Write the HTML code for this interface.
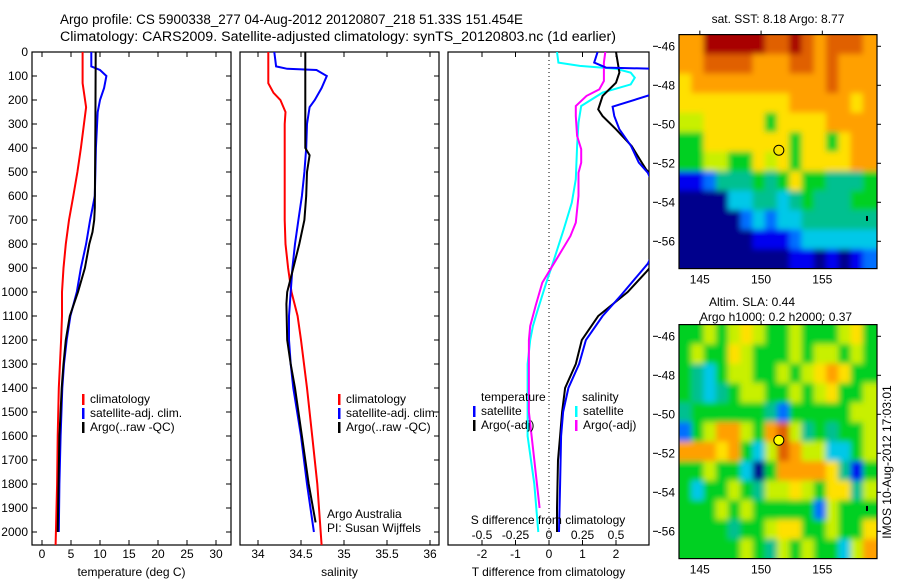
<!DOCTYPE html>
<html><head><meta charset="utf-8">
<style>
html,body{margin:0;padding:0;background:#fff;}
svg{display:block;font-family:"Liberation Sans",sans-serif;}
text{font-size:12px;fill:#000;}
</style></head>
<body>
<svg id="fig" width="900" height="580" viewBox="0 0 900 580" xmlns="http://www.w3.org/2000/svg">
<defs><filter id="blur" x="-5%" y="-5%" width="110%" height="110%"><feGaussianBlur stdDeviation="3"/></filter></defs>
<text x="60" y="24" style="font-size:13.5px" textLength="463" lengthAdjust="spacingAndGlyphs">Argo profile: CS 5900338_277 04-Aug-2012 20120807_218 51.33S 151.454E</text>
<text x="60" y="41" style="font-size:13.5px" textLength="556" lengthAdjust="spacingAndGlyphs">Climatology: CARS2009. Satellite-adjusted climatology: synTS_20120803.nc (1d earlier)</text>
<g id="panels"></g>
<g id="maps"></g>
</svg>
<script>
// ---------- profile data ----------
const depthTicks=[0,100,200,300,400,500,600,700,800,900,1000,1100,1200,1300,1400,1500,1600,1700,1800,1900,2000];
const tempTicks=[0,5,10,15,20,25,30];
const salTicks=[34,34.5,35,35.5,36];
const tdiffTicks=[-2,-1,0,1,2];
const sdiffTicks=[-0.5,-0.25,0,0.25,0.5];

const tClimD=[0,130,230,400,500,600,700,800,900,1000,1100,1200,1400,1600,1800,2054];
const tClimV=[7.0,7.0,7.6,6.7,6.1,5.4,4.65,4.1,3.7,3.45,3.45,3.3,2.9,2.7,2.6,2.35];
const tSatD=[0,60,75,100,150,200,250,400,600,650,700,800,900,1000,1100,1200,1300,1400,1600,1800,2000];
const tSatV=[8.5,8.5,10.0,11.1,10.7,10.0,9.6,9.3,9.1,8.7,8.3,7.6,6.7,6.0,4.9,4.25,3.8,3.5,3.2,3.0,2.9];
const tArgoD=[0,300,650,700,750,800,900,1000,1100,1200,1300,1400,1500,1600,2000];
const tArgoV=[9.25,9.2,9.1,9.0,8.7,8.15,7.4,6.2,4.8,4.1,3.7,3.4,3.2,3.0,2.7];

const sClimD=[0,130,170,200,250,300,700,800,900,1000,1100,1200,1400,1600,1800,2054];
const sClimV=[34.12,34.12,34.18,34.26,34.32,34.31,34.31,34.32,34.35,34.39,34.46,34.5,34.57,34.63,34.69,34.74];
const sSatD=[0,60,70,75,100,150,200,230,300,400,500,600,700,800,900,1000,1100,1200,1300,1400,1600,1800,2000];
const sSatV=[34.19,34.21,34.34,34.68,34.8,34.74,34.66,34.6,34.57,34.56,34.54,34.51,34.47,34.43,34.40,34.38,34.36,34.36,34.38,34.41,34.5,34.57,34.65];
const sArgoD=[0,400,430,500,600,700,800,900,1000,1050,1200,1300,1400,1600,1800,1960];
const sArgoV=[34.55,34.55,34.6,34.57,34.56,34.54,34.48,34.41,34.34,34.33,34.34,34.38,34.43,34.51,34.59,34.67];

const dtArgoD=[0,86,128,183,239,267,322,392,461,489,600,800,917,1000,1100,1200,1300,1400,1500,1600,1700,1900,2000];
const dtArgoV=[2.0,2.1,2.0,1.6,1.47,1.6,2.0,2.47,2.77,2.9,3.6,3.6,2.9,2.35,1.47,0.98,0.8,0.48,0.39,0.33,0.27,0.24,0.24];
const dtSatD=[0,44,65,70,120,180,228,267,322,392,461,503,700,882,1015,1100,1200,1300,1400,1500,1600,1800,2000];
const dtSatV=[1.45,1.35,1.7,3.2,3.6,3.0,1.9,1.95,2.1,2.45,2.68,2.95,3.6,2.95,2.14,1.6,1.1,0.9,0.58,0.42,0.36,0.33,0.3];
const dsSatD=[0,44,58,70,86,107,135,169,225,294,392,530,628,739,878,961,1086,1142,1200,1300,1600,1800,2000];
const dsSatV=[0.06,0.07,0.23,0.5,0.61,0.64,0.61,0.4,0.24,0.22,0.21,0.2,0.17,0.11,0.03,-0.02,-0.09,-0.12,-0.14,-0.16,-0.16,-0.11,-0.08];
const dsArgoD=[0,44,121,156,183,225,267,350,405,461,503,600,711,767,878,961,1058,1142,1200,1300,1500,1700,1900];
const dsArgoV=[0.42,0.41,0.41,0.375,0.28,0.2,0.2,0.21,0.24,0.24,0.22,0.22,0.2,0.16,0.04,-0.05,-0.1,-0.14,-0.15,-0.15,-0.15,-0.11,-0.07];

// ---------- map data (1°x1° cells, rows from -45.4S southward, cols from 143.3E) ----------
const sstGrid=[
[8,8,10,10,10,10,10,9,9,10,9,8,9,9,9,8],
[8,8,9,9,9,9,8,8,8,9,9,8,9,8,8,8],
[7,8,8,8,8,8,8,8,8,8,8,8,9,8,8,8],
[7,7,7,7,7,7,7,7,7,8,8,8,8,8,7,8],
[6,6,7,7,7,7,7,5,7,7,7,7,8,8,8,8],
[5,5,7,7,7,7,7,7,7,5,7,7,5,7,8,8],
[5,5,6,6,5,5,7,6,7,5,7,7,7,7,8,8],
[1,1,2,4,4,4,5,4,5,7,5,5,4,4,4,5],
[0,0,0,0,3,3,4,4,3,4,5,4,4,4,5,5],
[0,0,0,0,0,2,3,2,3,3,4,4,4,4,4,4],
[0,0,0,0,0,0,1,1,1,2,3,3,3,3,3,3],
[0,0,0,0,0,0,0,0,0,1,1,0,1,0,1,2]];
const slaGrid=[
[5,5,6,5,6,7,6,5,5,6,5,5,5,6,7,5],
[5,6,5,5,7,6,5,5,5,6,5,6,6,5,6,5],
[5,4,3,5,6,6,5,5,6,5,6,7,8,7,5,5],
[5,4,3,4,5,6,6,5,5,6,5,6,7,5,5,6],
[4,5,5,5,5,5,5,4,2,5,5,5,5,5,6,6],
[2,5,6,8,8,6,5,8,9,6,4,5,4,5,5,6],
[8,8,8,7,8,5,3,6,9,8,6,6,3,3,5,6],
[5,5,6,5,5,3,0,5,8,8,8,8,7,4,1,5],
[5,3,5,5,6,5,4,6,6,7,6,5,7,7,4,6],
[5,5,5,6,5,6,5,5,5,5,5,2,6,5,5,5],
[5,5,5,5,4,5,5,6,7,7,5,5,6,5,5,7],
[5,5,5,5,5,6,5,4,6,5,6,5,5,3,6,8]];
const lonTicks=[145,150,155];
const latTicks=[-46,-48,-50,-52,-54,-56];
const jet=['#00008c','#0000f0','#0070ff','#00c8e8','#00c090','#00d020','#c8f000','#ffe000','#ffa000','#e06000','#a80000'];

const NS='http://www.w3.org/2000/svg';
function el(tag,attrs,parent,txt){const e=document.createElementNS(NS,tag);for(const k in attrs)e.setAttribute(k,attrs[k]);if(txt!==undefined)e.textContent=txt;parent.appendChild(e);return e;}

const TOP=52,BOT=545;
const yD=d=>TOP+0.24*d;
const xT=t=>42+5.8*t;
const xS=s=>258+86*(s-34);
const xDT=t=>549+33.5*t;
const xDS=s=>549+134*s;

const panels=document.getElementById('panels');
function panel(name,x0,x1,xf,ticks,title,leftLabels,rightTicks){
  const g=el('g',{},panels);
  
  
  const cid='clip-'+name;
  const cp=el('clipPath',{id:cid},g);el('rect',{x:x0,y:TOP,width:x1-x0,height:BOT-TOP},cp);
  el('rect',{x:x0,y:TOP,width:x1-x0,height:BOT-TOP,fill:'#fff',stroke:'#000','stroke-width':1.2},g);
  ticks.forEach(v=>{const x=xf(v);
    el('line',{x1:x,x2:x,y1:BOT,y2:BOT-5,stroke:'#000'},g);
    el('line',{x1:x,x2:x,y1:TOP,y2:TOP+5,stroke:'#000'},g);
    const t=el('text',{x:x,y:558,'text-anchor':'middle'},g,String(v));
    
    
  });
  const tt=el('text',{x:(x0+x1)/2,y:576,'text-anchor':'middle'},g,title);
  
  
  depthTicks.forEach(d=>{const y=yD(d);
    if(leftLabels){el('line',{x1:x0,x2:x0+5,y1:y,y2:y,stroke:'#000'},g);
      const t=el('text',{x:x0-4,y:y+4,'text-anchor':'end'},g,String(d));
      
      }
    if(rightTicks)el('line',{x1:x1,x2:x1-5,y1:y,y2:y,stroke:'#000'},g);
  });
  return {g:g,clip:'url(#'+cid+')'};
}
function series(p,name,D,V,xf,color,w){
  let s='';D.forEach((d,i)=>{s+=(i?'L':'M')+xf(V[i]).toFixed(1)+' '+yD(d).toFixed(1);});
  const path=el('path',{d:s,fill:'none',stroke:color,'stroke-width':w||2,'clip-path':p.clip},p.g);
  
  
}
function legend(g,x,y,items){
  items.forEach((it,i)=>{const yy=y+i*14;
    el('rect',{x:x,y:yy-9,width:2.5,height:11,fill:it[1]},g);
    const t=el('text',{x:x+8,y:yy},g,it[0]);
    
    
  });
}

const p1=panel('temperature-panel',32,231,xT,tempTicks,'temperature (deg C)',true,true);
series(p1,'temp-climatology-line',tClimD,tClimV,xT,'#ff0000');
series(p1,'temp-satellite-line',tSatD,tSatV,xT,'#0000ff');
series(p1,'temp-argo-line',tArgoD,tArgoV,xT,'#000000');
legend(p1.g,82,403,[['climatology','#f00'],['satellite-adj. clim.','#00f'],['Argo(..raw -QC)','#000']]);

const p2=panel('salinity-panel',240,439,xS,salTicks,'salinity',false,true);
series(p2,'sal-climatology-line',sClimD,sClimV,xS,'#ff0000');
series(p2,'sal-satellite-line',sSatD,sSatV,xS,'#0000ff');
series(p2,'sal-argo-line',sArgoD,sArgoV,xS,'#000000');
legend(p2.g,338,403,[['climatology','#f00'],['satellite-adj. clim.','#00f'],['Argo(..raw -QC)','#000']]);
let t1=el('text',{x:327,y:518},p2.g,'Argo Australia');


let t2=el('text',{x:327,y:532},p2.g,'PI: Susan Wijffels');



const p3=panel('difference-panel',448,649,xDT,tdiffTicks,'T difference from climatology',false,false);
el('line',{x1:549,x2:549,y1:TOP,y2:BOT,stroke:'#000','stroke-dasharray':'1,3'},p3.g);
series(p3,'sdiff-satellite-line',dsSatD,dsSatV,xDS,'#00ffff');
series(p3,'sdiff-argo-line',dsArgoD,dsArgoV,xDS,'#ff00ff');
series(p3,'tdiff-argo-line',dtArgoD,dtArgoV,xDT,'#000000');
series(p3,'tdiff-satellite-line',dtSatD,dtSatV,xDT,'#0000ff');
let lt=el('text',{x:481,y:401},p3.g,'temperature');


let ls=el('text',{x:582,y:401},p3.g,'salinity');


legend(p3.g,473,415,[['satellite','#00f'],['Argo(-adj)','#000']]);
legend(p3.g,575,415,[['satellite','#0ff'],['Argo(-adj)','#f0f']]);
let sd=el('text',{x:548,y:524,'text-anchor':'middle'},p3.g,'S difference from climatology');


sdiffTicks.forEach(v=>{const t=el('text',{x:xDS(v),y:539,'text-anchor':'middle'},p3.g,String(v));
  
  });

// ---------- maps ----------
const maps=document.getElementById('maps');
const MX0=679,MX1=877,LON0=143.3,LAT0=-45.4,PXLON=12.25,PXLAT=19.5;
const mx=lon=>MX0+(lon-LON0)*PXLON;
function drawMap(name,grid,y0,circleFill,titles){
  const g=el('g',{},maps);
  
  
  const my=lat=>y0+(LAT0-lat)*PXLAT;
  const y1=my(-57.4);
  const cid='clip-'+name;
  const cp=el('clipPath',{id:cid},g);el('rect',{x:MX0,y:y0,width:MX1-MX0,height:y1-y0},cp);
  const outer=el('g',{'clip-path':'url(#'+cid+')'},g);
  const cg=el('g',{filter:'url(#blur)'},outer);
  grid.forEach((row,r)=>row.forEach((v,c)=>{
    const x=MX0+c*PXLON, y=y0+r*PXLAT;
    const ex=(c===0?-8:0), ey=(r===0?-8:0);
    const ew=(c===row.length-1?8:0)-ex, eh=(r===grid.length-1?8:0)-ey;
    const rc=el('rect',{x:(x+ex).toFixed(1),y:(y+ey).toFixed(1),width:PXLON+0.6+ew,height:PXLAT+0.6+eh,fill:jet[v]},cg);
    
    
  }));
  el('rect',{x:MX0,y:y0,width:MX1-MX0,height:y1-y0,fill:'none',stroke:'#000','stroke-width':1.2},g);
  lonTicks.forEach(l=>{const x=mx(l);
    el('line',{x1:x,x2:x,y1:y0,y2:y0-4,stroke:'#000'},g);
    const t=el('text',{x:x,y:y1+15,'text-anchor':'middle'},g,String(l));
    
    });
  latTicks.forEach(l=>{const y=my(l);
    el('line',{x1:MX1,x2:MX1+4,y1:y,y2:y,stroke:'#000'},g);
    el('line',{x1:653,x2:658,y1:y,y2:y,stroke:'#000'},g);
    const t=el('text',{x:675,y:y+4,'text-anchor':'end'},g,String(l));
    
    });
  const c=el('circle',{cx:mx(151.45),cy:my(-51.33),r:5,fill:circleFill,stroke:'#000','stroke-width':1},g);
  
  
  el('rect',{x:866,y:my(-54.7),width:2,height:5,fill:'#000'},g);
  titles.forEach((tt,i)=>{const t=el('text',{x:tt[1],y:tt[2],'text-anchor':'middle'},g,tt[0]);
    
    });
}
drawMap('sst-map',sstGrid,34.6,'none',[['sat. SST: 8.18 Argo: 8.77',778,23]]);
drawMap('sla-map',slaGrid,324.6,'#ffff00',[['Altim. SLA: 0.44',752,306],['Argo h1000: 0.2 h2000: 0.37',776,321]]);
const im=el('text',{x:0,y:0,transform:'translate(891,462) rotate(-90)','text-anchor':'middle'},maps,'IMOS 10-Aug-2012 17:03:01');


</script>
</body></html>
